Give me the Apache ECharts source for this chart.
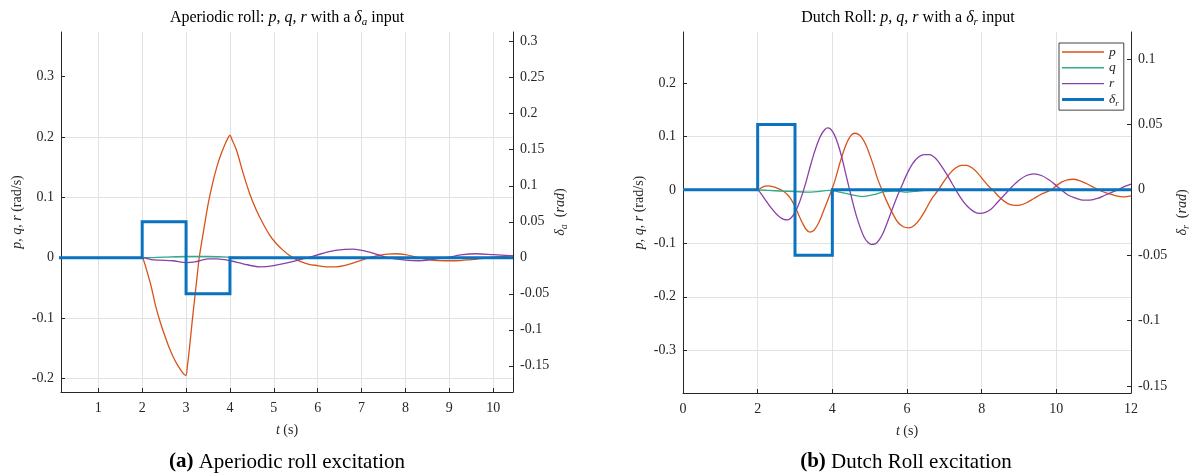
<!DOCTYPE html>
<html>
<head>
<meta charset="utf-8">
<script src="https://cdn.jsdelivr.net/npm/echarts@6/dist/echarts.min.js"></script>
<style>
html,body{margin:0;padding:0;background:#fff}
#main{width:1192px;height:475px}
</style>
</head>
<body>
<div id="main"></div>
<script>
// --- (a) aperiodic roll, [t, value] ---
var aperP = [[0,0],[1.97,0],[2,0],[2.05,-0.008],[2.1,-0.02],[2.2,-0.046],[2.3,-0.078],[2.4,-0.104],[2.5,-0.126],[2.6,-0.146],[2.7,-0.163],[2.8,-0.177],[2.9,-0.188],[2.97,-0.194],[3,-0.195],
  [3.03,-0.18],[3.08,-0.148],[3.14,-0.105],[3.2,-0.065],[3.25,-0.032],[3.3,0],[3.4,0.045],[3.5,0.088],[3.6,0.122],[3.7,0.15],[3.8,0.172],[3.9,0.19],[3.97,0.2],[4,0.203],
  [4.05,0.195],[4.15,0.178],[4.3,0.14],[4.45,0.106],[4.6,0.079],[4.75,0.057],[4.9,0.038],[5.05,0.024],[5.2,0.013],[5.35,0.004],[5.44,0],[5.6,-0.006],[5.8,-0.011],[6,-0.013],
  [6.2,-0.015],[6.42,-0.015],[6.6,-0.013],[6.8,-0.009],[7,-0.004],[7.17,0],[7.4,0.004],[7.6,0.006],[7.77,0.0066],[8,0.005],[8.3,0],[8.6,-0.004],[8.9,-0.005],[9.15,-0.005],
  [9.5,-0.003],[9.9,0],[10.2,0.002],[10.45,0.003]];
var aperQ = [[0,0],[1.95,0],[2,0],[2.5,0.001],[3,0.002],[3.5,0.002],[4,0.001],[4.5,0],[10.45,0]];
var aperR = [[0,0],[1.95,0],[2,0],[2.2,-0.003],[2.4,-0.004],[2.7,-0.005],[3,-0.008],[3.2,-0.007],[3.5,-0.002],[3.7,-0.002],[4,-0.005],[4.3,-0.01],[4.68,-0.015],[5,-0.013],
  [5.4,-0.007],[5.77,0],[6.1,0.007],[6.4,0.012],[6.8,0.0144],[7.2,0.009],[7.6,0],[8,-0.004],[8.3,-0.005],[8.6,-0.003],[8.93,0],[9.3,0.005],[9.6,0.0066],[10,0.005],[10.45,0.003]];
var aperDa = [[0,0],[2,0],[2,0.05],[3,0.05],[3,-0.05],[4,-0.05],[4,0],[10.45,0]];

// --- (b) dutch roll, [t, value] ---
var dutchP = [[0,0],[1.95,0],[2,0],[2.1,0.004],[2.2,0.007],[2.3,0.0075],[2.4,0.006],[2.5,0.004],[2.6,0.001],[2.7,-0.003],[2.8,-0.009],[2.9,-0.018],[3,-0.031],
  [3.1,-0.047],[3.2,-0.062],[3.3,-0.074],[3.4,-0.079],[3.5,-0.076],[3.6,-0.066],[3.7,-0.051],[3.8,-0.033],[3.9,-0.015],[4,0.003],[4.1,0.025],[4.2,0.05],[4.3,0.072],
  [4.4,0.09],[4.5,0.102],[4.6,0.106],[4.7,0.104],[4.8,0.097],[4.9,0.084],[5,0.066],[5.1,0.046],[5.2,0.023],[5.33,0],[5.45,-0.02],[5.6,-0.042],[5.75,-0.06],[5.9,-0.069],
  [6.05,-0.071],[6.2,-0.066],[6.35,-0.054],[6.5,-0.037],[6.65,-0.018],[6.84,0],[7,0.017],[7.15,0.031],[7.3,0.041],[7.45,0.046],[7.6,0.046],[7.75,0.041],[7.9,0.031],
  [8.05,0.018],[8.2,0.006],[8.3,0],[8.45,-0.012],[8.6,-0.021],[8.75,-0.027],[8.9,-0.029],[9.05,-0.028],[9.2,-0.024],[9.4,-0.016],[9.6,-0.008],[9.86,0],[10,0.008],
  [10.15,0.015],[10.3,0.019],[10.45,0.02],[10.6,0.018],[10.8,0.012],[11,0.005],[11.2,-0.002],[11.4,-0.007],[11.6,-0.011],[11.8,-0.013],[12,-0.011]];
var dutchQ = [[0,0],[1.95,0],[2,0],[2.3,-0.001],[2.6,-0.002],[3,-0.003],[3.3,-0.004],[3.6,-0.003],[3.9,-0.001],[4.2,-0.004],[4.5,-0.009],[4.8,-0.0125],[5.1,-0.009],
  [5.4,-0.003],[5.7,-0.002],[6,-0.004],[6.3,-0.002],[6.7,0],[12,0]];
var dutchR = [[0,0],[1.95,0],[2,0],[2.1,-0.008],[2.2,-0.018],[2.3,-0.028],[2.4,-0.037],[2.5,-0.045],[2.6,-0.051],[2.7,-0.055],[2.8,-0.056],[2.9,-0.052],[3,-0.042],
  [3.1,-0.027],[3.2,-0.007],[3.3,0.016],[3.4,0.042],[3.5,0.066],[3.6,0.087],[3.7,0.103],[3.8,0.113],[3.87,0.116],[3.95,0.114],[4.05,0.104],[4.15,0.086],[4.25,0.062],
  [4.35,0.033],[4.45,0.004],[4.55,-0.024],[4.65,-0.05],[4.75,-0.071],[4.85,-0.088],[4.95,-0.098],[5.05,-0.102],[5.15,-0.101],[5.25,-0.094],[5.35,-0.082],[5.45,-0.065],
  [5.6,-0.037],[5.75,-0.01],[5.85,0.006],[6,0.03],[6.15,0.049],[6.3,0.061],[6.45,0.066],[6.6,0.066],[6.75,0.06],[6.9,0.047],[7.05,0.031],[7.2,0.013],[7.35,-0.005],
  [7.5,-0.021],[7.65,-0.033],[7.8,-0.041],[7.95,-0.044],[8.1,-0.042],[8.25,-0.036],[8.4,-0.025],[8.6,-0.01],[8.8,0.005],[9,0.018],[9.2,0.027],[9.4,0.03],[9.6,0.027],
  [9.8,0.019],[10,0.008],[10.15,-0.001],[10.3,-0.009],[10.5,-0.015],[10.7,-0.019],[10.9,-0.019],[11.1,-0.016],[11.3,-0.01],[11.5,-0.004],[11.7,0.002],[11.85,0.007],[12,0.011]];
var dutchDr = [[0,0],[2,0],[2,0.05],[3,0.05],[3,-0.05],[4,-0.05],[4,0],[12,0]];

// tick labels
var xTicksA = [1,2,3,4,5,6,7,8,9,10];
var yTicksA = [-0.2,-0.1,0,0.1,0.2,0.3];
var y2TicksA = [-0.15,-0.1,-0.05,0,0.05,0.1,0.15,0.2,0.25,0.3];
var xTicksB = [0,2,4,6,8,10,12];
var yTicksB = [-0.3,-0.2,-0.1,0,0.1,0.2];
var y2TicksB = [-0.15,-0.1,-0.05,0,0.05,0.1];

var serif = '"Liberation Serif","Times New Roman",serif';
var ink = '#262626';
var gridC = '#e2e2e2';
var cP = '#D95319', cQ = '#2FAA8A', cR = '#8A40A8', cD = '#0A72BE';

function rich(size){
  return {
    n:{fontFamily:serif,fontSize:size,color:ink,lineHeight:size+4},
    i:{fontFamily:serif,fontSize:size,fontStyle:'italic',color:ink,lineHeight:size+4},
    s:{fontFamily:serif,fontSize:Math.round(size*0.7),fontStyle:'italic',color:ink,verticalAlign:'bottom',lineHeight:Math.round(size*0.7)},
    b:{fontFamily:serif,fontSize:size,fontWeight:'bold',color:ink,lineHeight:size+4}
  };
}

function xAxis(idx, min, max, split, ticks){
  return {
    gridIndex:idx, type:'value', min:min, max:max, splitNumber:split,
    axisLine:{onZero:false,lineStyle:{color:ink}},
    axisTick:{inside:true,length:4,customValues:ticks,lineStyle:{color:ink}},
    axisLabel:{customValues:ticks,color:ink,fontFamily:serif,fontSize:14,margin:9},
    splitLine:{show:true,lineStyle:{color:gridC}},
    name:'{i|t}{n| (s)}', nameLocation:'middle', nameGap:29,
    nameTextStyle:{rich:rich(14)}
  };
}
function yAxis(idx, pos, min, max, split, ticks, name, gap, grid){
  return {
    gridIndex:idx, type:'value', position:pos, min:min, max:max, splitNumber:split,
    axisLine:{show:true,onZero:false,lineStyle:{color:ink}},
    axisTick:{show:true,inside:true,length:4,customValues:ticks,lineStyle:{color:ink}},
    axisLabel:{customValues:ticks,color:ink,fontFamily:serif,fontSize:14,margin:7},
    splitLine:{show:grid,showMaxLine:false,lineStyle:{color:gridC}},
    name:name, nameLocation:'middle', nameRotate:90, nameGap:gap,
    nameTextStyle:{rich:rich(14)}
  };
}
function line(name, data, color, x, y){
  return {name:name,type:'line',data:data,xAxisIndex:x,yAxisIndex:y,symbol:'none',smooth:0.3,
    lineStyle:{color:color,width:1.3},itemStyle:{color:color},z:3};
}
function step(name, data, color, x, y){
  return {name:name,type:'line',data:data,xAxisIndex:x,yAxisIndex:y,symbol:'none',
    lineStyle:{color:color,width:3,join:'miter'},itemStyle:{color:color},z:5};
}

var pqr = '{i|p}{n|, }{i|q}{n|, }{i|r}{n| (rad/s)}';
var thin = 'path://M0,0H42V1.4H0Z', thick = 'path://M0,0H42V3H0Z';

var chart = echarts.init(document.getElementById('main'));
chart.setOption({
  animation:false,
  backgroundColor:'#fff',
  grid:[
    {left:61,top:32,width:452,height:360},
    {left:683,top:32,width:450,height:361}
  ],
  xAxis:[xAxis(0,0.15,10.45,10,xTicksA), xAxis(1,0,12,6,xTicksB)],
  yAxis:[
    yAxis(0,'left',-0.2223,0.3737,5,yTicksA,pqr,35,true),
    yAxis(0,'right',-0.1864,0.3135,10,y2TicksA,'{i|δ}{s|a}{n|  (}{i|rad}{n|)}',34,false),
    yAxis(1,'left',-0.38,0.2955,6,yTicksB,pqr,35,true),
    yAxis(1,'right',-0.1554,0.1207,6,y2TicksB,'{i|δ}{s|r}{n|  (}{i|rad}{n|)}',42,false)
  ],
  legend:{
    orient:'vertical', left:1059, top:43, padding:[2,5,2,3], itemGap:1.8,
    itemWidth:42, itemHeight:14,
    backgroundColor:'#fff', borderColor:'#444', borderWidth:1, borderRadius:0,
    data:[{name:'p',icon:thin},{name:'q',icon:thin},{name:'r',icon:thin},{name:'δr',icon:thick}],
    formatter:function(n){ return n === 'δr' ? '{i|δ}{s|r}' : '{i|' + n + '}'; },
    textStyle:{rich:rich(13.5)}
  },
  graphic:[
    {type:'text',x:287,y:18,style:{text:'{n|Aperiodic roll: }{i|p}{n|, }{i|q}{n|, }{i|r}{n| with a }{i|δ}{s|a}{n| input}',rich:rich(16),align:'center',verticalAlign:'middle'}},
    {type:'text',x:908,y:18,style:{text:'{n|Dutch Roll: }{i|p}{n|, }{i|q}{n|, }{i|r}{n| with a }{i|δ}{s|r}{n| input}',rich:rich(16),align:'center',verticalAlign:'middle'}},
    {type:'text',x:287,y:462,style:{text:'{b|(a)}{n| Aperiodic roll excitation}',rich:rich(21),align:'center',verticalAlign:'middle'}},
    {type:'text',x:906,y:462,style:{text:'{b|(b)}{n| Dutch Roll excitation}',rich:rich(21),align:'center',verticalAlign:'middle'}}
  ],
  series:[
    line('p',aperP,cP,0,0),
    line('q',aperQ,cQ,0,0),
    line('r',aperR,cR,0,0),
    step('δa',aperDa,cD,0,1),
    line('p',dutchP,cP,1,2),
    line('q',dutchQ,cQ,1,2),
    line('r',dutchR,cR,1,2),
    step('δr',dutchDr,cD,1,3)
  ]
});
</script>
</body>
</html>
